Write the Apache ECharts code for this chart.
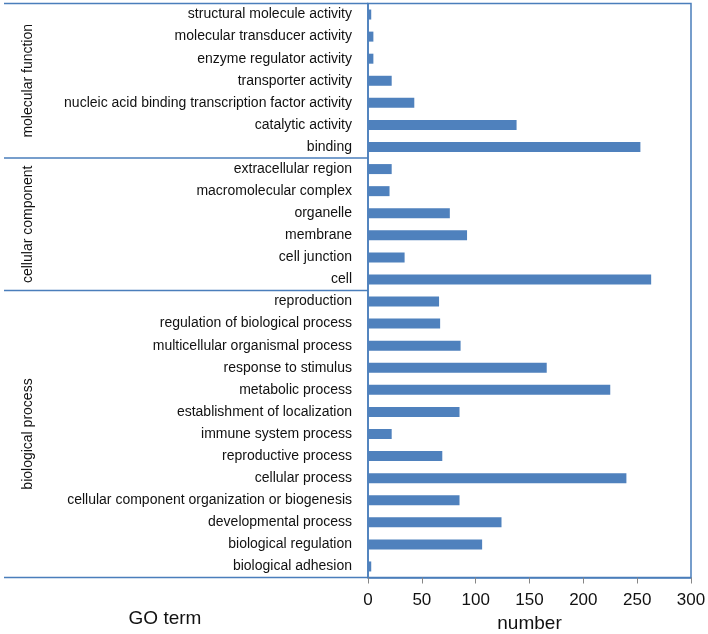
<!DOCTYPE html>
<html>
<head>
<meta charset="utf-8">
<script src="https://cdn.jsdelivr.net/npm/echarts@6/dist/echarts.min.js"></script>
<style>
  html, body { margin: 0; padding: 0; background: #fff; }
  #main { width: 708px; height: 634px; }
</style>
</head>
<body>
<div id="main"></div>
<script>
// GO terms, top to bottom
var terms = [
  'structural molecule activity',
  'molecular transducer activity',
  'enzyme regulator activity',
  'transporter activity',
  'nucleic acid binding transcription factor activity',
  'catalytic activity',
  'binding',
  'extracellular region',
  'macromolecular complex',
  'organelle',
  'membrane',
  'cell junction',
  'cell',
  'reproduction',
  'regulation of biological process',
  'multicellular organismal process',
  'response to stimulus',
  'metabolic process',
  'establishment of localization',
  'immune system process',
  'reproductive process',
  'cellular process',
  'cellular component organization or biogenesis',
  'developmental process',
  'biological regulation',
  'biological adhesion'
];
var counts = [3, 5, 5, 22, 43, 138, 253, 22, 20, 76, 92, 34, 263,
  66, 67, 86, 166, 225, 85, 22, 69, 240, 85, 124, 106, 3];

// group name, first term, last term
var groups = [
  ['molecular function', 'structural molecule activity', 'binding'],
  ['cellular component', 'extracellular region', 'cell'],
  ['biological process', 'reproduction', 'biological adhesion']
];

var lineColor = '#4a7ebb';
var font = 'Liberation Sans, Arial, sans-serif';

var myChart = echarts.init(document.getElementById('main'));

myChart.setOption({
  animation: false,
  grid: {
    left: 368,
    right: 17,
    top: 3.5,
    bottom: 56.5,
    outerBoundsMode: 'none',
    show: true,
    borderColor: lineColor,
    borderWidth: 1.5
  },
  xAxis: {
    type: 'value',
    min: 0,
    max: 300,
    interval: 50,
    name: 'number',
    nameLocation: 'middle',
    nameGap: 37,
    nameTextStyle: { fontSize: 19, color: '#111', fontFamily: font },
    axisLine: { show: true, lineStyle: { color: lineColor, width: 1.5 } },
    axisTick: { show: true, length: 6, lineStyle: { color: '#868686' } },
    axisLabel: { fontSize: 17, color: '#111', fontFamily: font, margin: 14 },
    splitLine: { show: false }
  },
  yAxis: {
    type: 'category',
    inverse: true,
    data: terms,
    axisLine: { show: true, lineStyle: { color: lineColor, width: 1.5 } },
    axisTick: { show: false },
    axisLabel: { fontSize: 14, color: '#111', fontFamily: font, margin: 16 }
  },
  series: [{
    type: 'bar',
    data: counts,
    barWidth: 10,
    itemStyle: { color: '#4f81bd' }
  }]
});

// group separators and rotated group labels, placed from the category axis
function pixY(name) {
  return myChart.convertToPixel({ yAxisIndex: 0 }, name);
}
var half = myChart.getModel().getComponent('yAxis', 0).axis.getBandWidth() / 2;
var rect = myChart.getModel().getComponent('grid', 0).coordinateSystem.getRect();
var gx = rect.x;
var elements = [];

groups.forEach(function (g, i) {
  var y0 = pixY(g[1]) - half;
  var y1 = pixY(g[2]) + half;
  // line at the top of each group, and at the bottom of the last one
  elements.push({
    type: 'line',
    shape: { x1: 4, y1: y0, x2: gx, y2: y0 },
    style: { stroke: lineColor, lineWidth: 1.5 }
  });
  if (i === groups.length - 1) {
    elements.push({
      type: 'line',
      shape: { x1: 4, y1: y1, x2: gx, y2: y1 },
      style: { stroke: lineColor, lineWidth: 1.5 }
    });
  }
  elements.push({
    type: 'text',
    x: 28,
    y: (y0 + y1) / 2,
    rotation: Math.PI / 2,
    style: {
      text: g[0],
      fontSize: 14,
      fontFamily: font,
      fill: '#111',
      align: 'center',
      verticalAlign: 'middle'
    }
  });
});

elements.push({
  type: 'text',
  x: 165,
  y: 619,
  style: {
    text: 'GO term',
    fontSize: 19,
    fontFamily: font,
    fill: '#111',
    align: 'center',
    verticalAlign: 'middle'
  }
});

myChart.setOption({ graphic: { elements: elements } });
</script>
</body>
</html>
